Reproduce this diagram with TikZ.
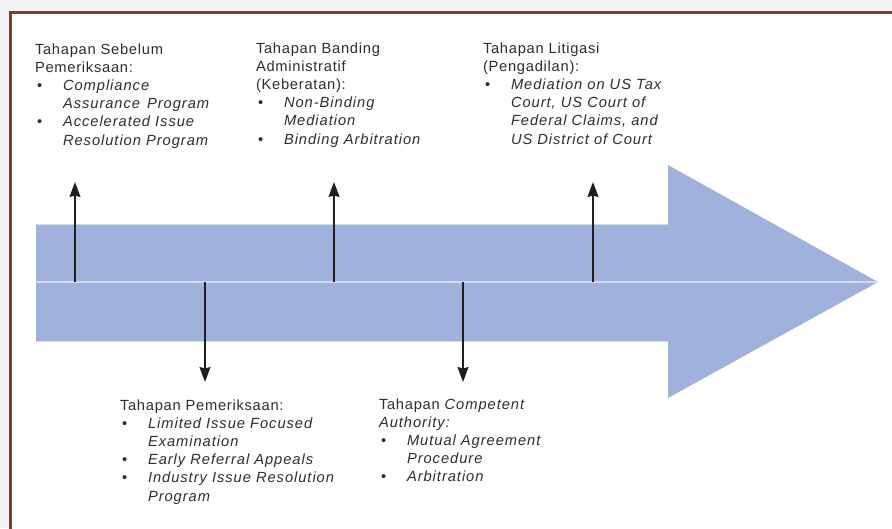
\documentclass[tikz,border=0pt]{standalone}
\usepackage{fontspec}
\setmainfont[LetterSpace=5,ItalicFeatures={LetterSpace=6.5}]{Liberation Sans}
\usetikzlibrary{arrows.meta}

\definecolor{framebrown}{HTML}{8C3A28}
\definecolor{pagegray}{HTML}{F5F3F6}
\definecolor{bandblue}{HTML}{A0B1DB}
\definecolor{bandedge}{HTML}{D3DBF0}
\definecolor{inkgray}{HTML}{2E2E2E}

% bullet item and its continuation line
\newcommand{\itm}[1]{\makebox[28pt][l]{\hspace{2pt}\textbullet}\textit{#1}}
\newcommand{\cnt}[1]{\hspace{28pt}\textit{#1}}

\tikzset{
  stage/.style={anchor=base west, inner sep=0pt, outer sep=0pt, text=inkgray,
    font=\fontsize{14.7}{18.2}\selectfont},
  pointer/.style={draw=black!88, line width=1.4pt,
    -{Stealth[length=15pt,width=11pt,inset=1.5pt]}},
}

\begin{document}
\begin{tikzpicture}[x=1pt,y=-1pt]
  \useasboundingbox (0,0) rectangle (892,528);
  \clip (0,0) rectangle (892,528);

  % page and frame
  \fill[pagegray] (0,0) rectangle (892,528);
  \fill[white] (10.5,12.5) rectangle (900,540);
  \draw[framebrown, line width=3pt] (10.5,540) -- (10.5,12.5) -- (900,12.5);

  % timeline band
  \fill[bandblue] (36,224) -- (668,224) -- (668,165) -- (878,282)
                  -- (668,398) -- (668,341) -- (36,341) -- cycle;
  \draw[bandedge, line width=0.8pt] (36,224) -- (668,224);
  \draw[bandedge, line width=0.8pt] (36,341) -- (668,341);
  \draw[bandedge, line width=1.3pt] (36,282) -- (878,282);

  % points on the timeline and pointer ends
  \coordinate (s1) at (75,282);   \coordinate (t1) at (75,182);
  \coordinate (s2) at (205,282);  \coordinate (t2) at (205,382);
  \coordinate (s3) at (334,282);  \coordinate (t3) at (334,182);
  \coordinate (s4) at (463,282);  \coordinate (t4) at (463,382);
  \coordinate (s5) at (593,282);  \coordinate (t5) at (593,182);

  \draw[pointer] (s1) -- (t1);
  \draw[pointer] (s2) -- (t2);
  \draw[pointer] (s3) -- (t3);
  \draw[pointer] (s4) -- (t4);
  \draw[pointer] (s5) -- (t5);

  % stage descriptions
  \node[stage] (pre) at (35,54) {\begin{tabular}[t]{@{}l@{}}
    Tahapan Sebelum\\
    Pemeriksaan:\\
    \itm{Compliance}\\
    \cnt{Assurance\hspace{2pt} Program}\\
    \itm{Accelerated Issue}\\
    \cnt{Resolution Program}
  \end{tabular}};

  \node[stage] (appeal) at (256,53) {\begin{tabular}[t]{@{}l@{}}
    Tahapan Banding\\
    Administratif\\
    (Keberatan):\\
    \itm{Non-Binding}\\
    \cnt{Mediation}\\
    \itm{Binding Arbitration}
  \end{tabular}};

  \node[stage] (court) at (483,53) {\begin{tabular}[t]{@{}l@{}}
    Tahapan Litigasi\\
    (Pengadilan):\\
    \itm{Mediation on US Tax}\\
    \cnt{Court, US Court of}\\
    \cnt{Federal Claims, and}\\
    \cnt{US District of Court}
  \end{tabular}};

  \node[stage] (exam) at (120,410) {\begin{tabular}[t]{@{}l@{}}
    Tahapan Pemeriksaan:\\
    \itm{Limited Issue Focused}\\
    \cnt{Examination}\\
    \itm{Early Referral Appeals}\\
    \itm{Industry Issue Resolution}\\
    \cnt{Program}
  \end{tabular}};

  \node[stage] (authority) at (379,409) {\begin{tabular}[t]{@{}l@{}}
    Tahapan \textit{Competent}\\
    \textit{Authority:}\\
    \itm{Mutual Agreement}\\
    \cnt{Procedure}\\
    \itm{Arbitration}
  \end{tabular}};
\end{tikzpicture}
\end{document}
